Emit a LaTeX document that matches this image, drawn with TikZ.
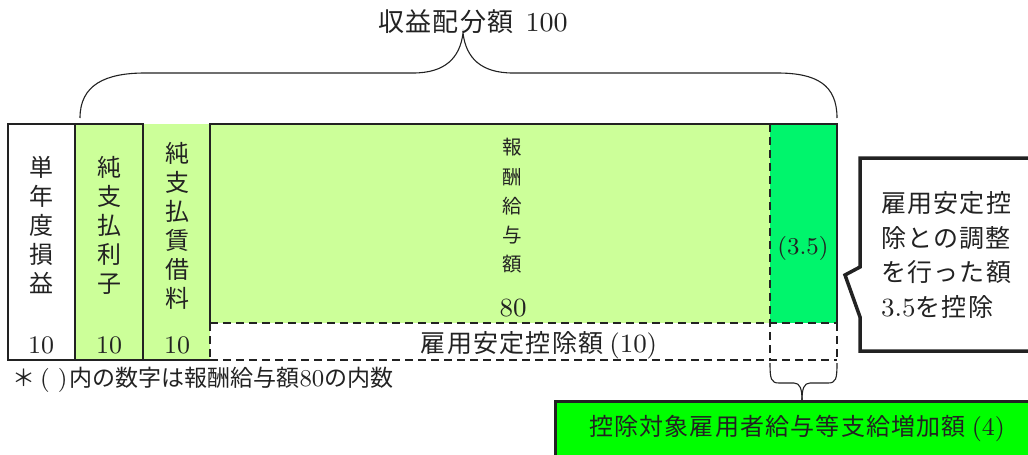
\documentclass[tikz,border=0pt]{standalone}
\usepackage{fontspec}
\setmainfont{lmroman9-regular.otf}[Scale=1.05]
\newfontfamily\cjk{Noto Sans CJK JP}
\newfontfamily\cjkw{Noto Sans CJK JP}[LetterSpace=5]
\definecolor{lgreen}{HTML}{CCFF99}
\definecolor{mgreen}{HTML}{00F56C}
\definecolor{bgreen}{HTML}{00FF00}
\definecolor{ink}{HTML}{222222}
\begin{document}
\begin{tikzpicture}[x=1pt,y=-1pt,
  solidln/.style={line width=2pt, draw=ink},
  dashln/.style={line width=2.8pt, draw=ink, dash pattern=on 8pt off 5pt},
  bracel/.style={line width=1.1pt, draw=ink},
  lbl/.style={inner sep=0pt, font=\fontsize{24}{29}\selectfont, text=ink},
  vert/.style={lbl, align=center},
]
\useasboundingbox (0,0) rectangle (1028,455);
\clip (0,0) rectangle (1028,455);

% fills
\fill[lgreen] (75,124) rectangle (210,360);
\fill[lgreen] (210,124) rectangle (770,323);
\fill[mgreen] (770,124) rectangle (837,323);

% solid outlines
\draw[solidln] (8,124) rectangle (75,360);
\draw[solidln] (75,124) rectangle (143,360);
\draw[solidln] (143,124) -- (143,360) -- (210,360);
\draw[solidln] (210,323) -- (210,124) -- (837,124) -- (837,323);

% dashed outlines
\draw[dashln] (210,323) -- (837,323);
\draw[dashln] (210,360) -- (837,360);
\draw[dashln] (210,323) -- (210,360);
\draw[dashln] (770,124) -- (770,360);
\draw[dashln] (837,323) -- (837,360);

% top brace
\draw[bracel] (80,118) .. controls (80,85) and (105,73) .. (145,73) -- (413,73)
  .. controls (445,73) and (460,58) .. (463,33)
  .. controls (466,58) and (481,73) .. (513,73) -- (777,73)
  .. controls (817,73) and (837,85) .. (837,118);

% title
\node[lbl, font=\fontsize{26}{30}\selectfont] (title) at (473,22) {{\cjkw 収益配分額}\hspace{12pt}100};

% column texts
\node[vert] (c1) at (41,225) {\cjk 単\\\cjk 年\\\cjk 度\\\cjk 損\\\cjk 益};
\node[vert] (c2) at (109,225) {\cjk 純\\\cjk 支\\\cjk 払\\\cjk 利\\\cjk 子};
\node[vert] (c3) at (177,226) {\cjk 純\\\cjk 支\\\cjk 払\\\cjk 賃\\\cjk 借\\\cjk 料};
\node[vert, font=\fontsize{19.5}{29.2}\selectfont] (c4) at (512,206) {\cjk 報\\\cjk 酬\\\cjk 給\\\cjk 与\\\cjk 額};
\node[lbl, font=\fontsize{25}{29}\selectfont] (n80) at (513,308) {80};
\node[lbl] (n1) at (41,345) {10};
\node[lbl] (n2) at (109,345) {10};
\node[lbl] (n3) at (177,345) {10};
\node[lbl, font=\fontsize{25}{29}\selectfont] (koyo) at (539,345) {{\cjkw 雇用安定控除額}\hspace{6pt}(10)};
\node[lbl, font=\fontsize{23}{29}\selectfont] (n35) at (803,248) {(3.5)};

% footnote
\node[lbl, anchor=west, font=\fontsize{23}{28}\selectfont] (note) at (12,380) {{\cjk ＊}\hspace{5pt}(\hspace{8pt})\hspace{2pt}{\cjk 内の数字は報酬給与額}80{\cjk の内数}};

% bottom brace
\draw[bracel] (770,363) .. controls (770,379) and (771,383) .. (779,383) -- (794,383)
  .. controls (800,383) and (802,389) .. (802,400);
\draw[bracel] (837,363) .. controls (837,379) and (836,383) .. (828,383) -- (810,383)
  .. controls (804,383) and (802,389) .. (802,400);

% green box
\draw[line width=3pt, draw=ink, fill=bgreen] (555,401) rectangle (1060,480);
\node[lbl, font=\fontsize{24}{29}\selectfont] (inc) at (797,428) {{\cjkw 控除対象雇用者給与等支給増加額}\hspace{6pt}(4)};

% callout
\draw[line width=3.5pt, draw=ink, fill=white, line join=miter]
  (1060,158) -- (860,158) -- (860,267) -- (845,275) -- (860,317) -- (860,351) -- (1060,351);
\node[lbl, anchor=west, align=left, font=\fontsize{25}{34.5}\selectfont] (call) at (881,255)
  {\cjkw 雇用安定控\\\cjkw 除との調整\\\cjkw を行った額\\3.5{\cjkw を控除}};
\end{tikzpicture}
\end{document}
